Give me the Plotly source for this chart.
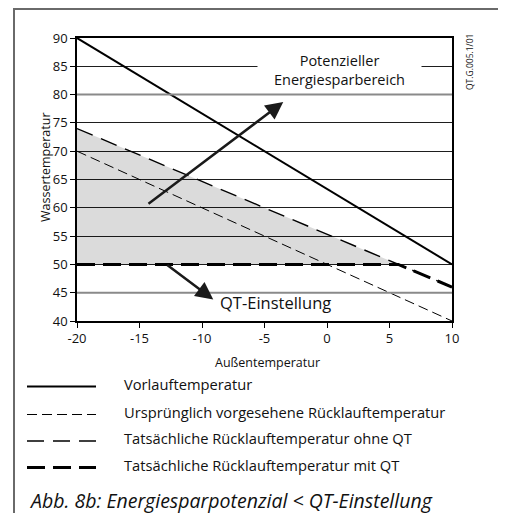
import plotly.graph_objects as go

# ---- data ----
x_line = [-20, 10]
vorlauf = [90, 50]
urspruenglich = [70, 40]
ohne_qt = [74, 46]
x_mit = [-20, 5.7, 10]
mit_qt = [50, 50, 46]
x_ticks = [-20, -15, -10, -5, 0, 5, 10]
x_tick_labels = ["-20", "-15", "-10", "-5", "0", "5", "10"]
y_ticks = [40, 45, 50, 55, 60, 65, 70, 75, 80, 85, 90]

legend_labels = [
    "Vorlauftemperatur",
    "Ursprünglich vorgesehene Rücklauftemperatur",
    "Tatsächliche Rücklauftemperatur ohne QT",
    "Tatsächliche Rücklauftemperatur mit QT",
]

# ---- layout geometry (page pixels; the page body has an 8px margin) ----
OFF = 8
PW, PH = 506, 513
W, H = PW - OFF, PH - OFF
L, R, T, B = 77, 452, 38, 321  # plot area in page pixels
FONT = "Open Sans"
TXT = "#111"
GREY_GRID = [80, 45]


def px(xp):
    return (xp - L) / (R - L)


def py(yp):
    return (B - yp) / (B - T)


styles = [
    dict(color="black", width=2),
    dict(color="black", width=1, dash="10px,5px"),
    dict(color="black", width=1.4, dash="17px,9px"),
    dict(color="black", width=3, dash="18px,8px"),
]

fig = go.Figure()
# shaded area between ohne QT and mit QT
fig.add_trace(go.Scatter(x=x_mit, y=mit_qt, mode="lines", line=dict(width=0),
                         showlegend=False, hoverinfo="skip"))
fig.add_trace(go.Scatter(x=x_line, y=ohne_qt, mode="lines", line=dict(width=0),
                         fill="tonexty", fillcolor="rgba(0,0,0,0.14)",
                         showlegend=False, hoverinfo="skip"))

fig.add_trace(go.Scatter(x=x_line, y=urspruenglich, mode="lines", line=styles[1],
                         name=legend_labels[1], showlegend=False))
fig.add_trace(go.Scatter(x=x_line, y=ohne_qt, mode="lines", line=styles[2],
                         name=legend_labels[2], showlegend=False))
fig.add_trace(go.Scatter(x=x_mit, y=mit_qt, mode="lines", line=styles[3],
                         name=legend_labels[3], showlegend=False))
fig.add_trace(go.Scatter(x=x_line, y=vorlauf, mode="lines", line=styles[0],
                         name=legend_labels[0], showlegend=False))

shapes = []
# two grid lines are grey in the original
for gv in GREY_GRID:
    shapes.append(dict(type="line", xref="x", yref="y", x0=-20, x1=10, y0=gv, y1=gv,
                       line=dict(color="#8a8a8a", width=2), layer="above"))
# outer frame
shapes.append(dict(type="line", xref="paper", yref="paper", x0=px(14), x1=px(14),
                   y0=py(PH + 5), y1=py(9), line=dict(color="#6a6a6a", width=2)))
shapes.append(dict(type="line", xref="paper", yref="paper", x0=px(13), x1=px(PW + 5),
                   y0=py(9), y1=py(9), line=dict(color="#6a6a6a", width=2)))

annotations = []
# legend
leg_line_y = [386.5, 414.5, 441, 467.5]
for i, lab in enumerate(legend_labels):
    shapes.append(dict(type="line", xref="paper", yref="paper", x0=px(27), x1=px(96),
                       y0=py(leg_line_y[i]), y1=py(leg_line_y[i]), line=styles[i]))
    annotations.append(dict(text=lab, xref="paper", yref="paper", x=px(122),
                            y=py(leg_line_y[i] - 3), xanchor="left", yanchor="middle",
                            showarrow=False, font=dict(family=FONT, size=14.7, color=TXT)))

# axis titles
annotations.append(dict(text="Wassertemperatur", xref="paper", yref="paper", x=px(45), y=py(167),
                        textangle=-90, showarrow=False, xanchor="center", yanchor="middle",
                        font=dict(family=FONT, size=12.5, color=TXT)))
annotations.append(dict(text="Außentemperatur", xref="paper", yref="paper", x=px(267), y=py(362),
                        showarrow=False, xanchor="center", yanchor="middle",
                        font=dict(family=FONT, size=12.5, color=TXT)))
annotations.append(dict(text="QT.G.005.1/01", xref="paper", yref="paper", x=px(469), y=py(62),
                        textangle=-90, showarrow=False, xanchor="center", yanchor="middle",
                        font=dict(family=FONT, size=8.5, color=TXT)))
# in-plot texts
annotations.append(dict(text="Potenzieller<br>Energiesparbereich", xref="paper", yref="paper",
                        x=px(339), y=py(70), showarrow=False, xanchor="center", yanchor="middle",
                        bgcolor="white", width=163, borderpad=0,
                        font=dict(family=FONT, size=14.5, color=TXT)))
annotations.append(dict(text="QT-Einstellung", xref="x", yref="y", x=-4.1, y=43.2,
                        showarrow=False, xanchor="center", yanchor="middle",
                        font=dict(family=FONT, size=16.5, color=TXT)))
# arrows
annotations.append(dict(x=-3.5, y=78.7, ax=-14.4, ay=60.5, xref="x", yref="y",
                        axref="x", ayref="y", text="", showarrow=True, arrowhead=2,
                        arrowsize=1.4, arrowwidth=2.5, arrowcolor="#1a1a1a", standoff=0))
annotations.append(dict(x=-9.1, y=43.8, ax=-12.9, ay=50.1, xref="x", yref="y",
                        axref="x", ayref="y", text="", showarrow=True, arrowhead=2,
                        arrowsize=1.4, arrowwidth=2.5, arrowcolor="#1a1a1a", standoff=0))
# caption
annotations.append(dict(text="<i>Abb. 8b: Energiesparpotenzial &lt; QT-Einstellung</i>",
                        xref="paper", yref="paper", x=px(27), y=py(500), showarrow=False,
                        xanchor="left", yanchor="middle",
                        font=dict(family=FONT, size=19.5, color=TXT)))

fig.update_layout(
    width=W, height=H,
    margin=dict(l=L - OFF, r=PW - R, t=T - OFF, b=PH - B, autoexpand=False),
    paper_bgcolor="white", plot_bgcolor="white",
    showlegend=False,
    shapes=shapes, annotations=annotations,
    xaxis=dict(range=[-20, 10], tickvals=x_ticks, ticktext=x_tick_labels,
               showgrid=False, zeroline=False,
               showline=True, linecolor="black", linewidth=1.5, mirror=True,
               ticks="outside", ticklen=5, tickcolor="black",
               tickfont=dict(family=FONT, size=13, color=TXT)),
    yaxis=dict(range=[40, 90], tickvals=y_ticks, showgrid=True, gridcolor="#1e1e1e",
               gridwidth=1, zeroline=False,
               showline=True, linecolor="black", linewidth=1.5, mirror=True,
               ticks="outside", ticklen=5, tickcolor="black",
               tickfont=dict(family=FONT, size=13, color=TXT)),
)

fig.write_html("out.html")
